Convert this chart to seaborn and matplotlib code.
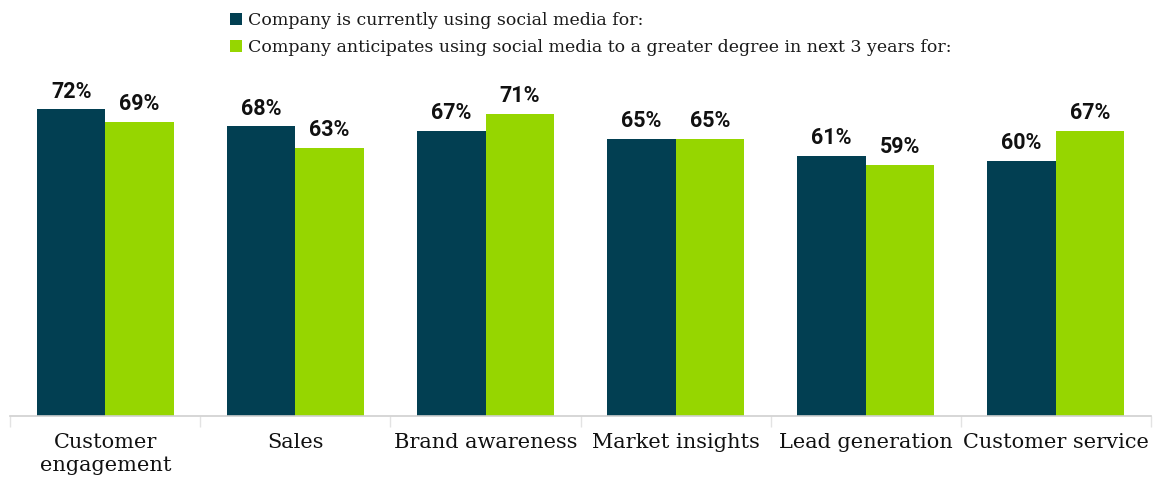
import matplotlib
matplotlib.use("Agg")
import matplotlib.pyplot as plt
import seaborn as sns
import pandas as pd
import numpy as np
from matplotlib.patches import Patch

categories = ["Customer\nengagement", "Sales", "Brand awareness", "Market insights",
              "Lead generation", "Customer service"]
current = [72, 68, 67, 65, 61, 60]
anticipated = [69, 63, 71, 65, 59, 67]
series_names = ["Company is currently using social media for:",
                "Company anticipates using social media to a greater degree in next 3 years for:"]
colors = ["#023F52", "#96D600"]

df = pd.DataFrame({
    "category": categories * 2,
    "value": current + anticipated,
    "series": [series_names[0]] * len(categories) + [series_names[1]] * len(categories),
})

sns.set_theme(style="white")
fig = plt.figure(figsize=(11.53, 4.83), dpi=100)
ax = fig.add_axes([0.009, 0.139, 0.989, 0.726])

sns.barplot(data=df, x="category", y="value", hue="series", palette=colors,
            width=0.72, saturation=1, ax=ax, legend=False, linewidth=0)

ax.set_ylim(0, 82.4)
ax.set_xlim(-0.5, len(categories) - 0.5)
ax.set_xlabel("")
ax.set_ylabel("")
ax.set_yticks([])
for s in ["top", "right", "left"]:
    ax.spines[s].set_visible(False)
ax.spines["bottom"].set_color("#D0D0D0")
ax.spines["bottom"].set_linewidth(1.2)
ax.set_xticks(range(len(categories)))
ax.set_xticklabels(categories, fontsize=15, family="DejaVu Serif", color="#111111",
                   linespacing=1.3)
ax.set_xticks(np.arange(-0.5, len(categories), 1), minor=True)
ax.tick_params(axis="x", which="major", length=0, pad=12, bottom=True)
ax.tick_params(axis="x", which="minor", length=8, color="#E3E3E3", width=1, bottom=True,
               direction="out")

for cont in ax.containers:
    labels = [f"{v:.0f}%" for v in cont.datavalues]
    ax.bar_label(cont, labels=labels, padding=5, fontsize=15.5, fontweight="bold",
                 family="Roboto", color="#111111")

handles = [Patch(facecolor=c, edgecolor="none") for c in colors]
fig.legend(handles, series_names, loc="upper left", bbox_to_anchor=(0.186, 1.008),
           frameon=False, handlelength=0.7, handleheight=0.7,
           handletextpad=0.35, labelspacing=0.6, labelcolor="#1a1a1a",
           prop={"family": "DejaVu Serif", "size": 12.5})

fig.savefig("out.png", dpi=100)
